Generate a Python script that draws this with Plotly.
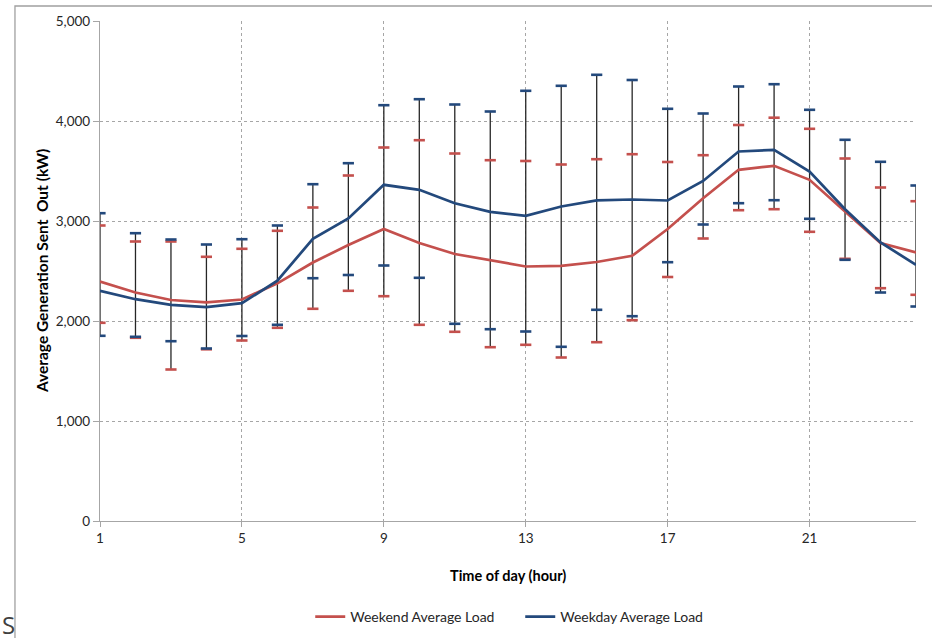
import numpy as np
import plotly.graph_objects as go

hours = list(range(1, 25))

weekend_avg = [2395, 2285, 2210, 2187, 2215, 2377, 2585, 2760, 2920, 2780, 2670, 2605,
               2545, 2552, 2590, 2652, 2920, 3228, 3512, 3552, 3412, 3095, 2780, 2685]
weekend_hi = [2955, 2795, 2795, 2642, 2722, 2902, 3135, 3455, 3735, 3808, 3675, 3608,
              3600, 3565, 3618, 3668, 3590, 3658, 3960, 4033, 3922, 3625, 3335, 3198]
weekend_lo = [1982, 1832, 1515, 1717, 1805, 1932, 2122, 2302, 2248, 1962, 1892, 1738,
              1762, 1635, 1788, 2008, 2440, 2825, 3108, 3118, 2892, 2622, 2328, 2262]

weekday_avg = [2302, 2218, 2162, 2138, 2178, 2403, 2822, 3025, 3362, 3312, 3178, 3092,
               3052, 3145, 3207, 3215, 3205, 3400, 3695, 3712, 3495, 3118, 2785, 2562]
weekday_hi = [3078, 2878, 2815, 2765, 2818, 2955, 3368, 3578, 4158, 4218, 4165, 4095,
              4302, 4352, 4462, 4410, 4122, 4075, 4345, 4368, 4112, 3812, 3592, 3355]
weekday_lo = [1852, 1842, 1798, 1725, 1850, 1962, 2428, 2460, 2555, 2432, 1972, 1918,
              1895, 1742, 2112, 2048, 2588, 2965, 3178, 3208, 3022, 2612, 2285, 2145]

x_ticks = [1, 5, 9, 13, 17, 21]
y_ticks = [0, 1000, 2000, 3000, 4000, 5000]
y_tick_text = ["0", "1,000", "2,000", "3,000", "4,000", "5,000"]

RED = "#C4504D"
BLUE = "#23497C"
FONT = "Lato"

avg_wd = np.array(weekday_avg)
top = np.maximum(np.array(weekend_hi), np.array(weekday_hi))
bot = np.minimum(np.array(weekend_lo), np.array(weekday_lo))

fig = go.Figure()

# black error-bar stems spanning both series' ranges
fig.add_trace(go.Scatter(
    x=hours, y=weekday_avg, mode="markers",
    marker=dict(size=1, opacity=0),
    error_y=dict(type="data", symmetric=False,
                 array=(top - avg_wd).tolist(),
                 arrayminus=(avg_wd - bot).tolist(),
                 color="#262626", thickness=1.3, width=0),
    showlegend=False, hoverinfo="skip"))

fig.add_trace(go.Scatter(
    x=hours, y=weekend_avg, mode="lines", name="Weekend Average Load",
    line=dict(color=RED, width=2.7)))
fig.add_trace(go.Scatter(
    x=hours, y=weekday_avg, mode="lines", name="Weekday Average Load",
    line=dict(color=BLUE, width=2.7)))

# caps
for hi, lo, col in [(weekend_hi, weekend_lo, RED), (weekday_hi, weekday_lo, BLUE)]:
    fig.add_trace(go.Scatter(
        x=hours + hours, y=hi + lo, mode="markers",
        marker=dict(symbol="line-ew", size=8, line=dict(color=col, width=2.6)),
        showlegend=False, hoverinfo="skip"))

fig.update_layout(
    width=932, height=638,
    margin=dict(l=100, r=16, t=21, b=117, autoexpand=False),
    paper_bgcolor="white", plot_bgcolor="white",
    font=dict(family=FONT, size=13, color="#262626"),
    showlegend=True,
    legend=dict(orientation="h", x=0.515, xanchor="center",
                yref="container", y=1 - 617 / 638, yanchor="middle",
                font=dict(family=FONT, size=14, color="#262626"),
                itemwidth=30, entrywidth=165, entrywidthmode="pixels"),
    xaxis=dict(range=[1, 24], tickvals=x_ticks, showgrid=True,
               gridcolor="#A6A6A6", griddash="3px,3px", gridwidth=1,
               showline=True, linecolor="#A6A6A6", linewidth=1.3,
               ticks="outside", ticklen=5, tickcolor="#A6A6A6",
               tickfont=dict(family=FONT, size=13.5, color="#262626"),
               zeroline=False),
    yaxis=dict(range=[0, 5000], tickvals=y_ticks, ticktext=y_tick_text,
               showgrid=True, gridcolor="#A6A6A6", griddash="3px,3px", gridwidth=1,
               showline=True, linecolor="#A6A6A6", linewidth=1.3,
               ticks="outside", ticklen=6, tickcolor="#A6A6A6",
               tickfont=dict(family=FONT, size=13.5, color="#262626"),
               zeroline=False),
    shapes=[dict(type="rect", xref="paper", yref="paper",
                 x0=-0.1042, x1=1.05, y0=-0.26, y1=1.03,
                 line=dict(color="#A0A0A0", width=1.3), layer="below")],
    annotations=[
        dict(text="S", xref="paper", yref="paper",
             x=(8 - 100) / 816, y=(521 - 624) / 500,
             showarrow=False, xanchor="center", yanchor="middle",
             font=dict(family="Open Sans", size=24, color="#404040")),
        dict(text="<b>Time of day (hour)</b>", xref="paper", yref="paper",
             x=0.5, y=(521 - 575) / 500, showarrow=False,
             xanchor="center", yanchor="middle",
             font=dict(family=FONT, size=14.5, color="#000000")),
        dict(text="<b>Average Generation Sent  Out (kW)</b>", xref="paper", yref="paper",
             x=(42 - 100) / 816, y=0.5, showarrow=False, textangle=-90,
             xanchor="center", yanchor="middle",
             font=dict(family=FONT, size=15.5, color="#000000")),
    ],
)

fig.write_html("out.html", config={"displayModeBar": False},
               post_script="document.body.style.margin='0';")
